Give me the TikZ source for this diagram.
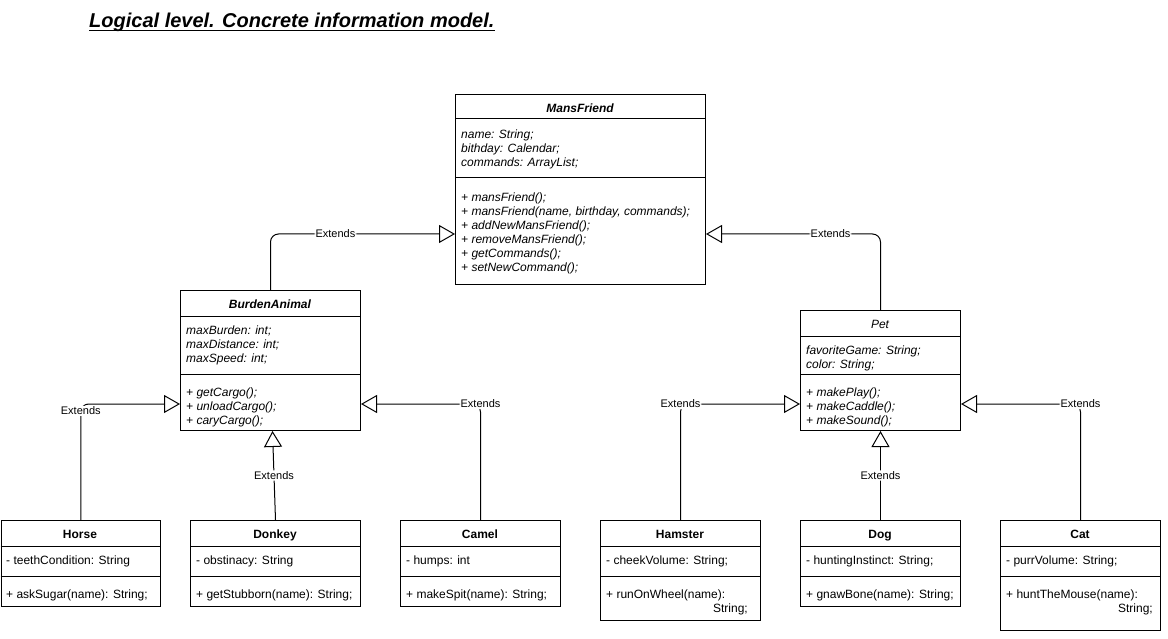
\documentclass[tikz,border=0pt]{standalone}
\usepackage{fontspec}
\setmainfont{Liberation Sans}
\usetikzlibrary{arrows.meta}

% Frame of a UML class: name, left x, top y, width, bottom y, header rule y, separator rule y
\newcommand\classframe[7]{%
  \node[frame, minimum width=#4pt, minimum height=#5pt-#3pt] (#1) at (#2,#3) {};
  \draw[rule] (#1.west |- 0,#6) -- (#1.east |- 0,#6);
  \draw[rule] (#1.west |- 0,#7) -- (#1.east |- 0,#7);
}
% Member lines of a compartment, 14pt apart: style, name prefix, x, first baseline, lines
\newcommand\textlines[5]{%
  \foreach \memb [count=\i from 0] in {#5}
    \node[#1] (#2-\i) at (#3, #4+14*\i) {\memb};
}

\begin{document}
\begin{tikzpicture}[x=1pt, y=-1pt,
  frame/.style={draw, line width=1pt, inner sep=0pt, anchor=north west},
  rule/.style={line width=1pt},
  member/.style={anchor=base west, inner sep=0pt, font=\fontsize{12}{14}\selectfont},
  amember/.style={member, font=\fontsize{12}{14}\selectfont\itshape},
  rmember/.style={member, anchor=base east},
  cname/.style={anchor=base, inner sep=0pt, font=\fontsize{12}{14}\selectfont\bfseries},
  aname/.style={cname, font=\fontsize{12}{14}\selectfont\bfseries\itshape},
  iname/.style={cname, font=\fontsize{12}{14}\selectfont\itshape},
  ext/.style={draw, line width=1pt, rounded corners=8pt,
              -{Triangle[open, length=16pt, width=18pt]}},
  lbl/.style={fill=white, inner sep=1pt, font=\fontsize{11}{13}\selectfont}
]
\useasboundingbox (0,0) rectangle (1168,639);
\fill[white] (0,0) rectangle (1168,639);

% heading
\node[anchor=base west, inner sep=0pt, font=\fontsize{20}{24}\selectfont\bfseries\itshape]
  (title) at (89,28) {Logical level. Concrete information model.};
\draw[line width=1.5pt] ([yshift=-2.5pt]title.base west) -- ([yshift=-2.5pt]title.base east);

% MansFriend
\classframe{mf}{455}{94}{250}{284}{119}{178}
\node[aname] (mf-name) at (580,112.5) {MansFriend};
\textlines{amember}{mfa}{461}{138.5}{name: String;, bithday: Calendar;, commands: ArrayList;}
\textlines{amember}{mfm}{461}{201.5}{+ mansFriend();, {+ mansFriend(name, birthday, commands);},
  + addNewMansFriend();, + removeMansFriend();, + getCommands();, + setNewCommand();}

% BurdenAnimal
\classframe{ba}{180}{290}{180}{430}{316}{374}
\node[aname] (ba-name) at (270,308.5) {BurdenAnimal};
\textlines{amember}{baa}{186}{334.5}{maxBurden: int;, maxDistance: int;, maxSpeed: int;}
\textlines{amember}{bam}{186}{396.5}{+ getCargo();, + unloadCargo();, + caryCargo();}

% Pet
\classframe{pet}{800}{310}{160}{430}{336}{374}
\node[iname] (pet-name) at (880,328.5) {Pet};
\textlines{amember}{peta}{806}{354.5}{favoriteGame: String;, color: String;}
\textlines{amember}{petm}{806}{396.5}{+ makePlay();, + makeCaddle();, + makeSound();}

% Horse
\classframe{horse}{0.5}{520}{159.5}{606}{546}{576}
\node[cname] (horse-name) at (80,538.5) {Horse};
\node[member] (horse-a) at (6,564.5) {- teethCondition: String};
\node[member] (horse-m) at (6,598.5) {+ askSugar(name): String;};

% Donkey
\classframe{donkey}{190}{520}{170}{606}{546}{576}
\node[cname] (donkey-name) at (275,538.5) {Donkey};
\node[member] (donkey-a) at (196,564.5) {- obstinacy: String};
\node[member] (donkey-m) at (196,598.5) {+ getStubborn(name): String;};

% Camel
\classframe{camel}{400}{520}{160}{606}{546}{576}
\node[cname] (camel-name) at (480,538.5) {Camel};
\node[member] (camel-a) at (406,564.5) {- humps: int};
\node[member] (camel-m) at (406,598.5) {+ makeSpit(name): String;};

% Hamster
\classframe{hamster}{600}{520}{160}{620}{546}{576}
\node[cname] (hamster-name) at (680,538.5) {Hamster};
\node[member] (hamster-a) at (606,564.5) {- cheekVolume: String;};
\node[member] (hamster-m) at (606,598.5) {+ runOnWheel(name):};
\node[rmember] (hamster-m2) at (748,612.5) {String;};

% Dog
\classframe{dog}{800}{520}{160}{606}{546}{576}
\node[cname] (dog-name) at (880,538.5) {Dog};
\node[member] (dog-a) at (806,564.5) {- huntingInstinct: String;};
\node[member] (dog-m) at (806,598.5) {+ gnawBone(name): String;};

% Cat
\classframe{cat}{1000}{520}{160}{630}{546}{576}
\node[cname] (cat-name) at (1080,538.5) {Cat};
\node[member] (cat-a) at (1006,564.5) {- purrVolume: String;};
\node[member] (cat-m) at (1006,598.5) {+ huntTheMouse(name):};
\node[rmember] (cat-m2) at (1153,612.5) {String;};

% generalisations
\draw[ext] (ba.north) |- node[lbl, pos=0.676] (l-ba) {Extends} ([yshift=-140pt]mf.north west);
\draw[ext] (pet.north) |- node[lbl, pos=0.643] (l-pet) {Extends} ([yshift=-140pt]mf.north east);
\draw[ext] (horse.north) |- node[lbl, pos=0.47] (l-horse) {Extends} ([yshift=-114pt]ba.north west);
\draw[ext] (donkey.north) -- node[lbl] (l-donkey) {Extends} ([xshift=2pt]ba.south);
\draw[ext] (camel.north) |- node[lbl, pos=0.5] (l-camel) {Extends} ([yshift=-114pt]ba.north east);
\draw[ext] (hamster.north) |- node[lbl, pos=0.5] (l-hamster) {Extends} ([yshift=-94pt]pet.north west);
\draw[ext] (dog.north) -- node[lbl] (l-dog) {Extends} (pet.south);
\draw[ext] (cat.north) |- node[lbl, pos=0.5] (l-cat) {Extends} ([yshift=-94pt]pet.north east);
\end{tikzpicture}
\end{document}
